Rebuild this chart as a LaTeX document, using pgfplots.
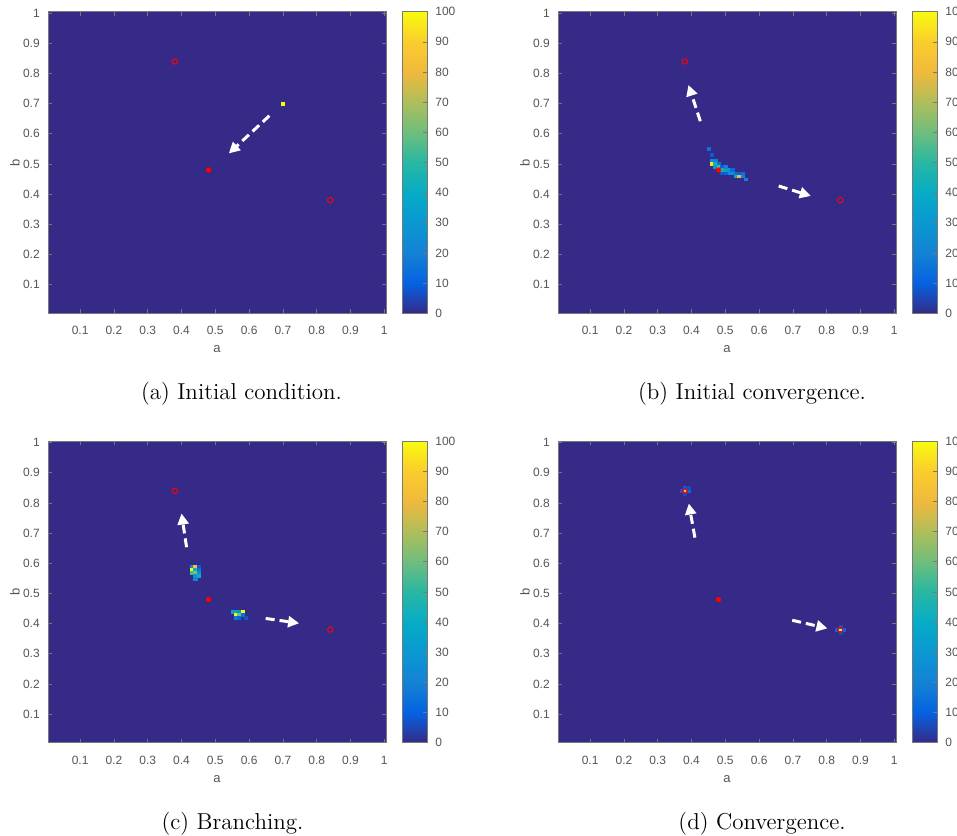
\documentclass[border=0pt]{standalone}
\usepackage{fontspec}
\usepackage{pgfplots}
\pgfplotsset{compat=1.18}
\usepackage{pgfplotstable}
\usetikzlibrary{arrows.meta}
\newfontfamily\mfont{Liberation Sans}
\definecolor{pbg}{RGB}{53,42,135}
\definecolor{tickgray}{RGB}{85,85,85}
\definecolor{linegray}{RGB}{120,120,120}
\definecolor{mred}{RGB}{255,0,0}
\tikzset{arr/.style={white, line width=1.5pt, dash pattern=on 4.5pt off 2.5pt,
    -{Triangle[length=5.5pt,width=5.5pt]}}}
\pgfplotsset{
  tickfont/.style={
    tick label style={font=\mfont\fontsize{6}{6.5}\selectfont, text=tickgray},
    /pgf/number format/assume math mode=true,
    axis line style={draw=linegray, line width=0.4pt},
    every tick/.style={draw=linegray, line width=0.35pt},
    major tick length=2pt,
    tick align=inside,
  },
  mat/.style={
    scale only axis, width=169pt, height=150.8pt,
    anchor=south west,
    xmin=0.005, xmax=1.005, ymin=0.005, ymax=1.005,
    xtick={0.1,0.2,0.3,0.4,0.5,0.6,0.7,0.8,0.9,1},
    ytick={0.1,0.2,0.3,0.4,0.5,0.6,0.7,0.8,0.9,1},
    tickfont,
    xticklabel style={yshift=-3pt},
    yticklabel style={xshift=-0.6pt},
    axis background/.style={fill=pbg},
    xlabel=a, ylabel=b,
    every axis x label/.style={at={(axis description cs:0.5,0)}, anchor=center, yshift=-18pt, font=\mfont\fontsize{6.5}{7}\selectfont, text=tickgray},
    every axis y label/.style={at={(axis description cs:-0.0976,0.5)}, rotate=90, anchor=center, font=\mfont\fontsize{6.5}{7}\selectfont, text=tickgray},
    colormap={parula}{rgb255(0cm)=(53,42,135) rgb255(1cm)=(5,98,225) rgb255(2cm)=(20,130,212) rgb255(3cm)=(10,152,210) rgb255(4cm)=(6,172,198) rgb255(5cm)=(40,183,163) rgb255(6cm)=(110,190,125) rgb255(7cm)=(175,190,90) rgb255(8cm)=(240,185,60) rgb255(9cm)=(250,205,45) rgb255(10cm)=(249,251,14)},
    point meta min=0, point meta max=100,
    colorbar,
    colorbar style={
      at={(parent axis.north east)}, anchor=north west, xshift=-0.5pt,
      scale only axis, width=12.5pt, height=150.8pt,
      ytick={0,10,20,30,40,50,60,70,80,90,100},
      tickfont,
      ytick pos=right, yticklabel pos=right,
      yticklabel style={xshift=0.6pt},
    },
  },
  cells/.style={scatter, only marks, mark=square*, mark size=0.8pt,
    scatter/use mapped color={draw=mapped color, fill=mapped color, line width=0.1pt, yscale=0.9}},
  ring/.style={scatter=false, point meta=none, only marks, mark=o, mark size=1.35pt, color=mred,
    mark options={draw=mred, fill=none, solid, line width=0.5pt}},
  dot/.style={scatter=false, point meta=none, only marks, mark=*, mark size=1.2pt, color=mred,
    mark options={draw=mred, fill=mred, solid, line width=0.2pt}},
}
\pgfplotstableread{
a b c
0.70 0.70 100
}\tA
\pgfplotstableread{
a b c
0.45 0.55 15
0.46 0.53 8
0.46 0.51 25
0.47 0.51 20
0.46 0.50 95
0.47 0.50 45
0.48 0.50 15
0.47 0.49 30
0.48 0.49 55
0.49 0.49 10
0.49 0.48 45
0.50 0.48 35
0.50 0.49 20
0.51 0.48 30
0.51 0.47 25
0.52 0.47 25
0.52 0.48 12
0.53 0.47 15
0.53 0.46 40
0.54 0.46 80
0.55 0.46 20
0.54 0.47 10
0.55 0.47 15
0.56 0.45 20
0.49 0.47 8
0.50 0.47 10
}\tB
\pgfplotstableread{
a b c
0.43 0.59 20
0.44 0.59 85
0.45 0.59 8
0.43 0.58 100
0.44 0.58 45
0.45 0.58 15
0.43 0.57 55
0.44 0.57 62
0.45 0.57 25
0.44 0.56 30
0.45 0.56 42
0.44 0.55 22
0.55 0.44 35
0.56 0.44 35
0.57 0.44 30
0.58 0.44 100
0.56 0.43 100
0.57 0.43 60
0.58 0.43 15
0.56 0.42 18
0.57 0.42 12
0.59 0.42 8
}\tC
\pgfplotstableread{
a b c
0.38 0.84 88
0.37 0.84 8
0.39 0.84 12
0.38 0.85 10
0.39 0.85 6
0.38 0.83 5
0.84 0.38 95
0.83 0.38 10
0.85 0.38 12
0.84 0.39 8
0.84 0.37 6
}\tD
\begin{document}
\begin{tikzpicture}
% (a)
\begin{axis}[mat, at={(24pt,260.85pt)}]
\addplot[cells, point meta=\thisrow{c}] table[x=a,y=b] {\tA};
\addplot[ring] coordinates {(0.38,0.84) (0.84,0.38)};
\addplot[dot] coordinates {(0.48,0.48)};
\draw[arr] (axis cs:0.66,0.66) -- (axis cs:0.54,0.535);
\end{axis}
% (b)
\begin{axis}[mat, at={(279pt,260.85pt)}]
\addplot[cells, point meta=\thisrow{c}] table[x=a,y=b] {\tB};
\addplot[ring] coordinates {(0.38,0.84) (0.84,0.38)};
\addplot[dot] coordinates {(0.48,0.48)};
\draw[arr] (axis cs:0.426,0.642) -- (axis cs:0.391,0.762);
\draw[arr] (axis cs:0.658,0.427) -- (axis cs:0.753,0.394);
\end{axis}
% (c)
\begin{axis}[mat, at={(24pt,46.15pt)}]
\addplot[cells, point meta=\thisrow{c}] table[x=a,y=b] {\tC};
\addplot[ring] coordinates {(0.38,0.84) (0.84,0.38)};
\addplot[dot] coordinates {(0.48,0.48)};
\draw[arr] (axis cs:0.415,0.653) -- (axis cs:0.40,0.765);
\draw[arr] (axis cs:0.649,0.417) -- (axis cs:0.748,0.401);
\end{axis}
% (d)
\begin{axis}[mat, at={(279pt,46.15pt)}]
\addplot[cells, point meta=\thisrow{c}] table[x=a,y=b] {\tD};
\addplot[ring] coordinates {(0.38,0.84) (0.84,0.38)};
\addplot[dot] coordinates {(0.48,0.48)};
\draw[arr] (axis cs:0.41,0.685) -- (axis cs:0.392,0.798);
\draw[arr] (axis cs:0.698,0.411) -- (axis cs:0.802,0.384);
\end{axis}
\node[anchor=base, font=\fontsize{11.5}{13}\selectfont] at (120.75pt,217.5pt) {(a) Initial condition.};
\node[anchor=base, font=\fontsize{11.5}{13}\selectfont] at (376pt,217.5pt) {(b) Initial convergence.};
\node[anchor=base, font=\fontsize{11.5}{13}\selectfont] at (116.25pt,2.75pt) {(c) Branching.};
\node[anchor=base, font=\fontsize{11.5}{13}\selectfont] at (381pt,2.75pt) {(d) Convergence.};
\pgfresetboundingbox
\path[use as bounding box] (0,0) rectangle (478.5pt,417.5pt);
\end{tikzpicture}
\end{document}
